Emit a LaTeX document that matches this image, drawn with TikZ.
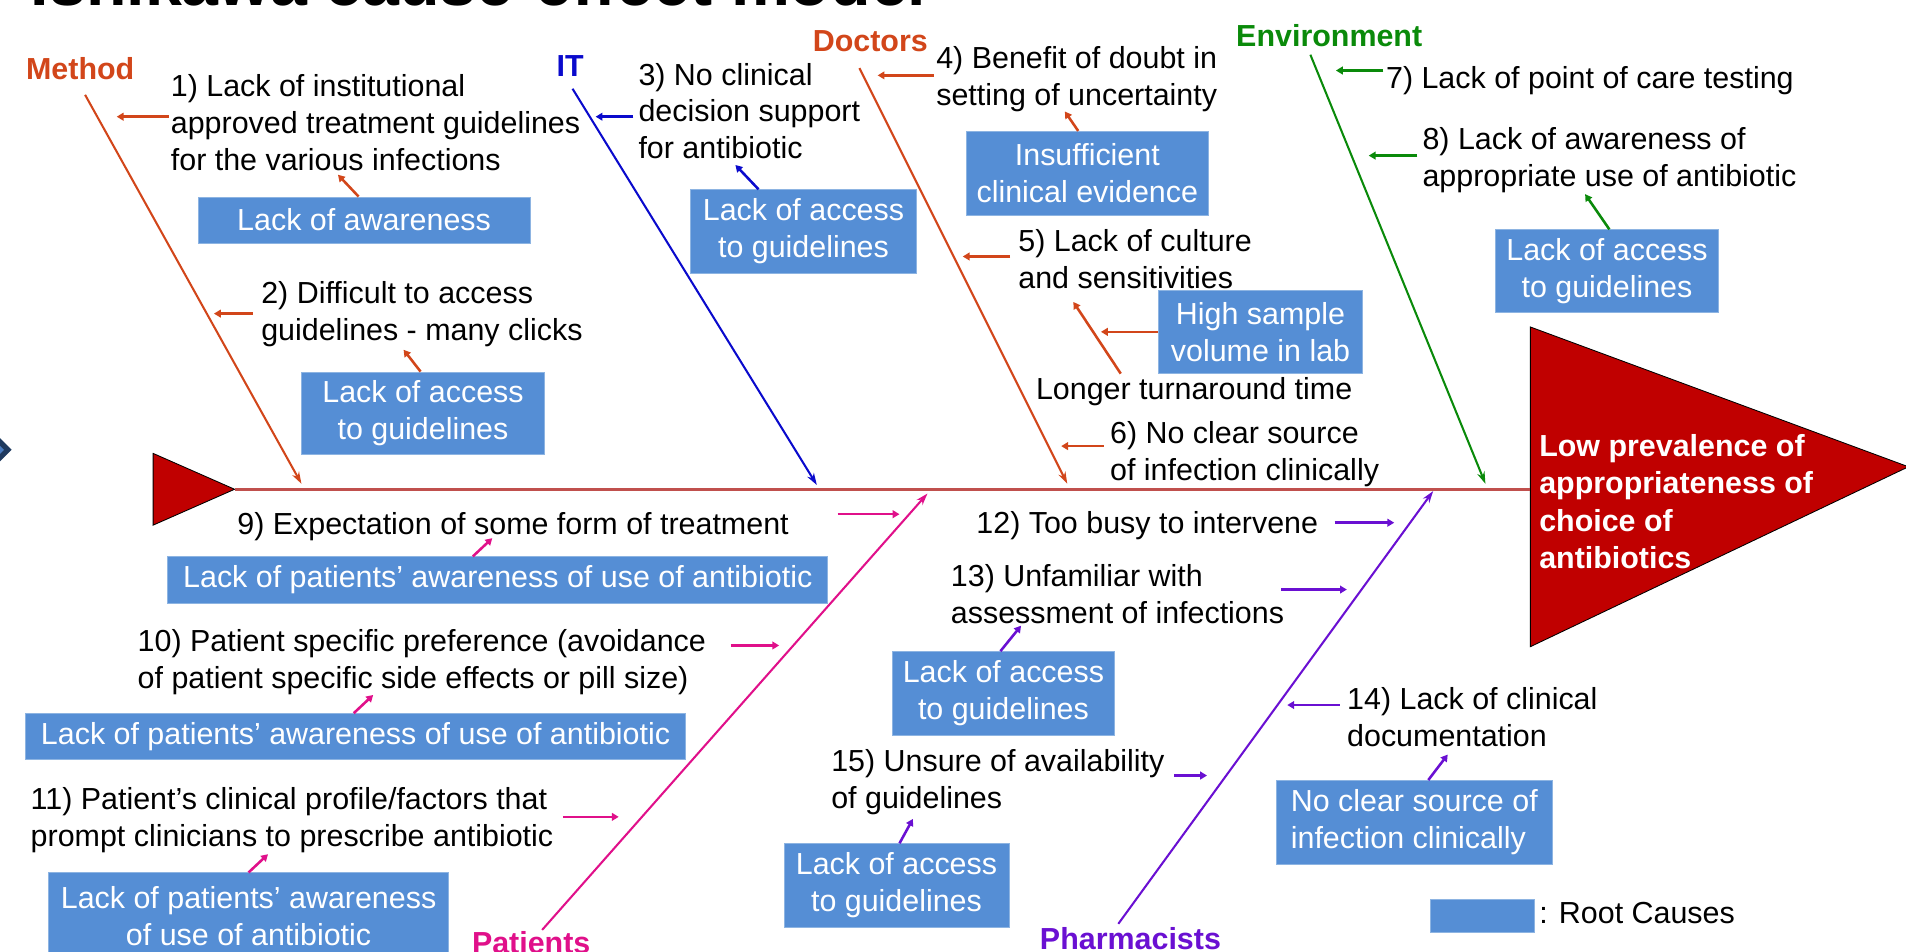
\documentclass[tikz,border=0pt]{standalone}
\usepackage{fontspec}
\setmainfont{Liberation Sans}
\usetikzlibrary{arrows.meta,calc}
\definecolor{methodred}{HTML}{D2461A}
\definecolor{itblue}{HTML}{0A0ACC}
\definecolor{envgreen}{HTML}{0A8A0A}
\definecolor{patmag}{HTML}{E0108A}
\definecolor{pharmpurple}{HTML}{6A10D2}
\definecolor{spinered}{HTML}{C0504D}
\definecolor{effectred}{HTML}{C00000}
\definecolor{rootblue}{HTML}{558ED5}
\definecolor{rootedge}{HTML}{8DB4E2}
\definecolor{navdark}{HTML}{1F3A5F}
\definecolor{navlight}{HTML}{4A7CC0}
\newlength\px \setlength\px{0.025cm}
\newcommand\causefont{\fontsize{17.8}{21.6}\selectfont}
\tikzset{cause/.style={anchor=base west,align=left,inner sep=0pt,font=\causefont},root/.style 2 args={fill=rootblue,draw=rootedge,line width=0.4pt,inner sep=0pt,align=center,text=white,font=\causefont,minimum width=#1\px,minimum height=#2\px},cat/.style={anchor=base,inner sep=0pt,font=\causefont\bfseries},bone/.style={line width=1.2pt,-{Stealth[length=7pt,width=4.5pt]}},arr/.style={line width=1.5pt,-{Triangle[length=4pt,width=4.5pt]}}}

\begin{document}
\begin{tikzpicture}[x=0.025cm,y=-0.025cm,effect/.style={anchor=base west,align=left,inner sep=0pt,text=white,font=\fontsize{17.8}{21.8}\selectfont\bfseries}]
\useasboundingbox (0,0) rectangle (1568,783);
\node[anchor=base west,inner sep=0pt,font=\fontsize{38.8}{40}\selectfont\bfseries] (title) at (25,4.5) {Ishikawa cause-effect model};
\fill[navdark] (9.6,370) -- (-2,358.4) -- (-13.6,370) -- (-2,381.6) -- cycle;
\fill[navlight] (3.3,370) -- (-2,364.7) -- (-7.3,370) -- (-2,375.3) -- cycle;
% fish body
\coordinate (tail) at (193,402.5);
\coordinate (head) at (1259,402.5);
\filldraw[fill=effectred,draw=black,line width=0.5pt] (126,373) -- (tail) -- (126,432) -- cycle;
\filldraw[fill=effectred,draw=black,line width=0.5pt] (1259,269) -- (1570,384) -- (1259,532) -- cycle;
\draw[spinered,line width=1.7pt] (tail) -- (head);
\node[effect] (eff) at (1266,467.6) {Low prevalence of\\appropriateness of\\choice of\\antibiotics};
% bones
\node[cat,methodred] (method) at (66,65.6) {Method};
\node[cat,itblue] (it) at (469,63.3) {IT};
\node[cat,methodred] (doctors) at (716,42.6) {Doctors};
\node[cat,envgreen] (env) at (1093.5,38.5) {Environment};
\node[cat,patmag] (patients) at (437,784.6) {Patients};
\node[cat,pharmpurple] (pharm) at (930,781.5) {Pharmacists};
\coordinate (mA) at (70,78); \coordinate (mB) at (248,398);
\coordinate (iA) at (471,73); \coordinate (iB) at (672,399);
\coordinate (dA) at (707,56); \coordinate (dB) at (878,398);
\coordinate (eA) at (1078,45); \coordinate (eB) at (1222,398);
\coordinate (pA) at (446,765); \coordinate (pB) at (763,406);
\coordinate (hA) at (920,760); \coordinate (hB) at (1179,404);
\draw[bone,methodred] (mA) -- (mB);
\draw[bone,itblue] (iA) -- (iB);
\draw[bone,methodred] (dA) -- (dB);
\draw[bone,envgreen] (eA) -- (eB);
\draw[bone,patmag] (pA) -- (pB);
\draw[bone,pharmpurple] (hA) -- (hB);
% Method
\node[cause] (c1) at (140.3,140.2) {1) Lack of institutional\\approved treatment guidelines\\for the various infections};
\coordinate (h1) at (96,96);
\draw[arr,methodred] ($(h1)+(43,0)$) -- (h1);
\node[root={273}{38}] (r1) at (299.5,181) {Lack of awareness};
\draw[arr,methodred] ([xshift=-4.5\px]r1.north) -- ++(-17,-18);
\node[cause] (c2) at (214.7,280.2) {2) Difficult to access\\guidelines - many clicks};
\coordinate (h2) at (176,258);
\draw[arr,methodred] ($(h2)+(32,0)$) -- (h2);
\node[root={200}{68}] (r2) at (348,340) {Lack of access\\to guidelines};
\draw[arr,methodred] ([xshift=-2\px]r2.north) -- ++(-14,-18);
% IT
\node[cause] (c3) at (525,130.7) {3) No clinical\\decision support\\for antibiotic};
\coordinate (h3) at (490,96);
\draw[arr,itblue] ($(h3)+(31,0)$) -- (h3);
\node[root={186}{69}] (r3) at (661,190.5) {Lack of access\\to guidelines};
\draw[arr,itblue] ([xshift=-37\px]r3.north) -- ++(-19,-20);
% Doctors
\node[cause] (c4) at (770,86.9) {4) Benefit of doubt in\\setting of uncertainty};
\coordinate (h4) at (722,62);
\draw[arr,methodred] ($(h4)+(46,0)$) -- (h4);
\node[root={199}{69}] (r4) at (894.5,142.5) {Insufficient\\clinical evidence};
\draw[arr,methodred] ([xshift=-7.5\px]r4.north) -- ++(-11,-16);
\node[cause] (c5) at (837.5,237.4) {5) Lack of culture\\and sensitivities};
\coordinate (h5) at (792,211);
\draw[arr,methodred] ($(h5)+(39,0)$) -- (h5);
\node[root={168}{68}] (r5) at (1037,273) {High sample\\volume in lab};
\node[cause] (lt) at (852,328.8) {Longer turnaround time};
\draw[arr,methodred] (r5.west) -- ++(-47,0);
\draw[arr,methodred] ($(lt.north west)+(70,-3)$) -- ++(-39,-59);
\node[cause] (c6) at (913,395.4) {6) No clear source\\of infection clinically};
\coordinate (h6) at (873,367);
\draw[arr,methodred] ($(h6)+(35,0)$) -- (h6);
% Environment
\node[cause] (c7) at (1140,72.7) {7) Lack of point of care testing};
\coordinate (h7) at (1099,58);
\draw[arr,envgreen] ($(h7)+(39,0)$) -- (h7);
\node[cause] (c8) at (1170,153.4) {8) Lack of awareness of\\appropriate use of antibiotic};
\coordinate (h8) at (1126,128);
\draw[arr,envgreen] ($(h8)+(40,0)$) -- (h8);
\node[root={184}{68}] (r8) at (1322,223) {Lack of access\\to guidelines};
\draw[arr,envgreen] ([xshift=2\px]r8.north) -- ++(-20,-29);
% Patients
\node[cause] (c9) at (195,439.9) {9) Expectation of some form of treatment};
\coordinate (h9) at (740,423);
\draw[arr,patmag] ($(h9)+(-51,0)$) -- (h9);
\node[root={543}{38}] (r9) at (409.5,477) {Lack of patients’ awareness of use of antibiotic};
\draw[arr,patmag] ([xshift=-20.5\px]r9.north) -- ++(16,-15);
\node[cause] (c10) at (113,566.4) {10) Patient specific preference (avoidance\\of patient specific side effects or pill size)};
\coordinate (h10) at (641,531);
\draw[arr,patmag] ($(h10)+(-40,0)$) -- (h10);
\node[root={543}{38}] (r10) at (292.5,606) {Lack of patients’ awareness of use of antibiotic};
\draw[arr,patmag] ([xshift=-1.5\px]r10.north) -- ++(16,-15);
\node[cause] (c11) at (25,696.4) {11) Patient’s clinical profile/factors that\\prompt clinicians to prescribe antibiotic};
\coordinate (h11) at (509,672);
\draw[arr,patmag] ($(h11)+(-46,0)$) -- (h11);
\node[root={329}{72}] (r11) at (204.5,754) {Lack of patients’ awareness\\of use of antibiotic};
\draw[arr,patmag] (r11.north) -- ++(16,-15);
% Pharmacists
\node[cause] (c12) at (803,439) {12) Too busy to intervene};
\coordinate (h12) at (1147,430);
\draw[arr,pharmpurple] ($(h12)+(-49,0)$) -- (h12);
\node[cause] (c13) at (782,513) {13) Unfamiliar with\\assessment of infections};
\coordinate (h13) at (1108,485);
\draw[arr,pharmpurple] ($(h13)+(-54,0)$) -- (h13);
\node[root={183}{69}] (r13) at (825.5,570.5) {Lack of access\\to guidelines};
\draw[arr,pharmpurple] ([xshift=-2.5\px]r13.north) -- ++(17,-21);
\node[cause] (c14) at (1108,614.2) {14) Lack of clinical\\documentation};
\coordinate (h14) at (1059,580);
\draw[arr,pharmpurple] ($(h14)+(43,0)$) -- (h14);
\node[root={227}{69},align=left] (r14) at (1163.5,676.5) {No clear source of\\infection clinically};
\draw[arr,pharmpurple] ([xshift=11.5\px]r14.north) -- ++(16,-21);
\node[cause] (c15) at (683.6,665.2) {15) Unsure of availability\\of guidelines};
\coordinate (h15) at (993,638);
\draw[arr,pharmpurple] ($(h15)+(-27,0)$) -- (h15);
\node[root={185}{69}] (r15) at (737.5,728.5) {Lack of access\\to guidelines};
\draw[arr,pharmpurple] ([xshift=2.5\px]r15.north) -- ++(11,-20);
% legend
\node[root={85}{27}] (key) at (1219.5,753.5) {};
\node[cause] (keytxt) at (1266,759.6) {: Root Causes};
\end{tikzpicture}
\end{document}
